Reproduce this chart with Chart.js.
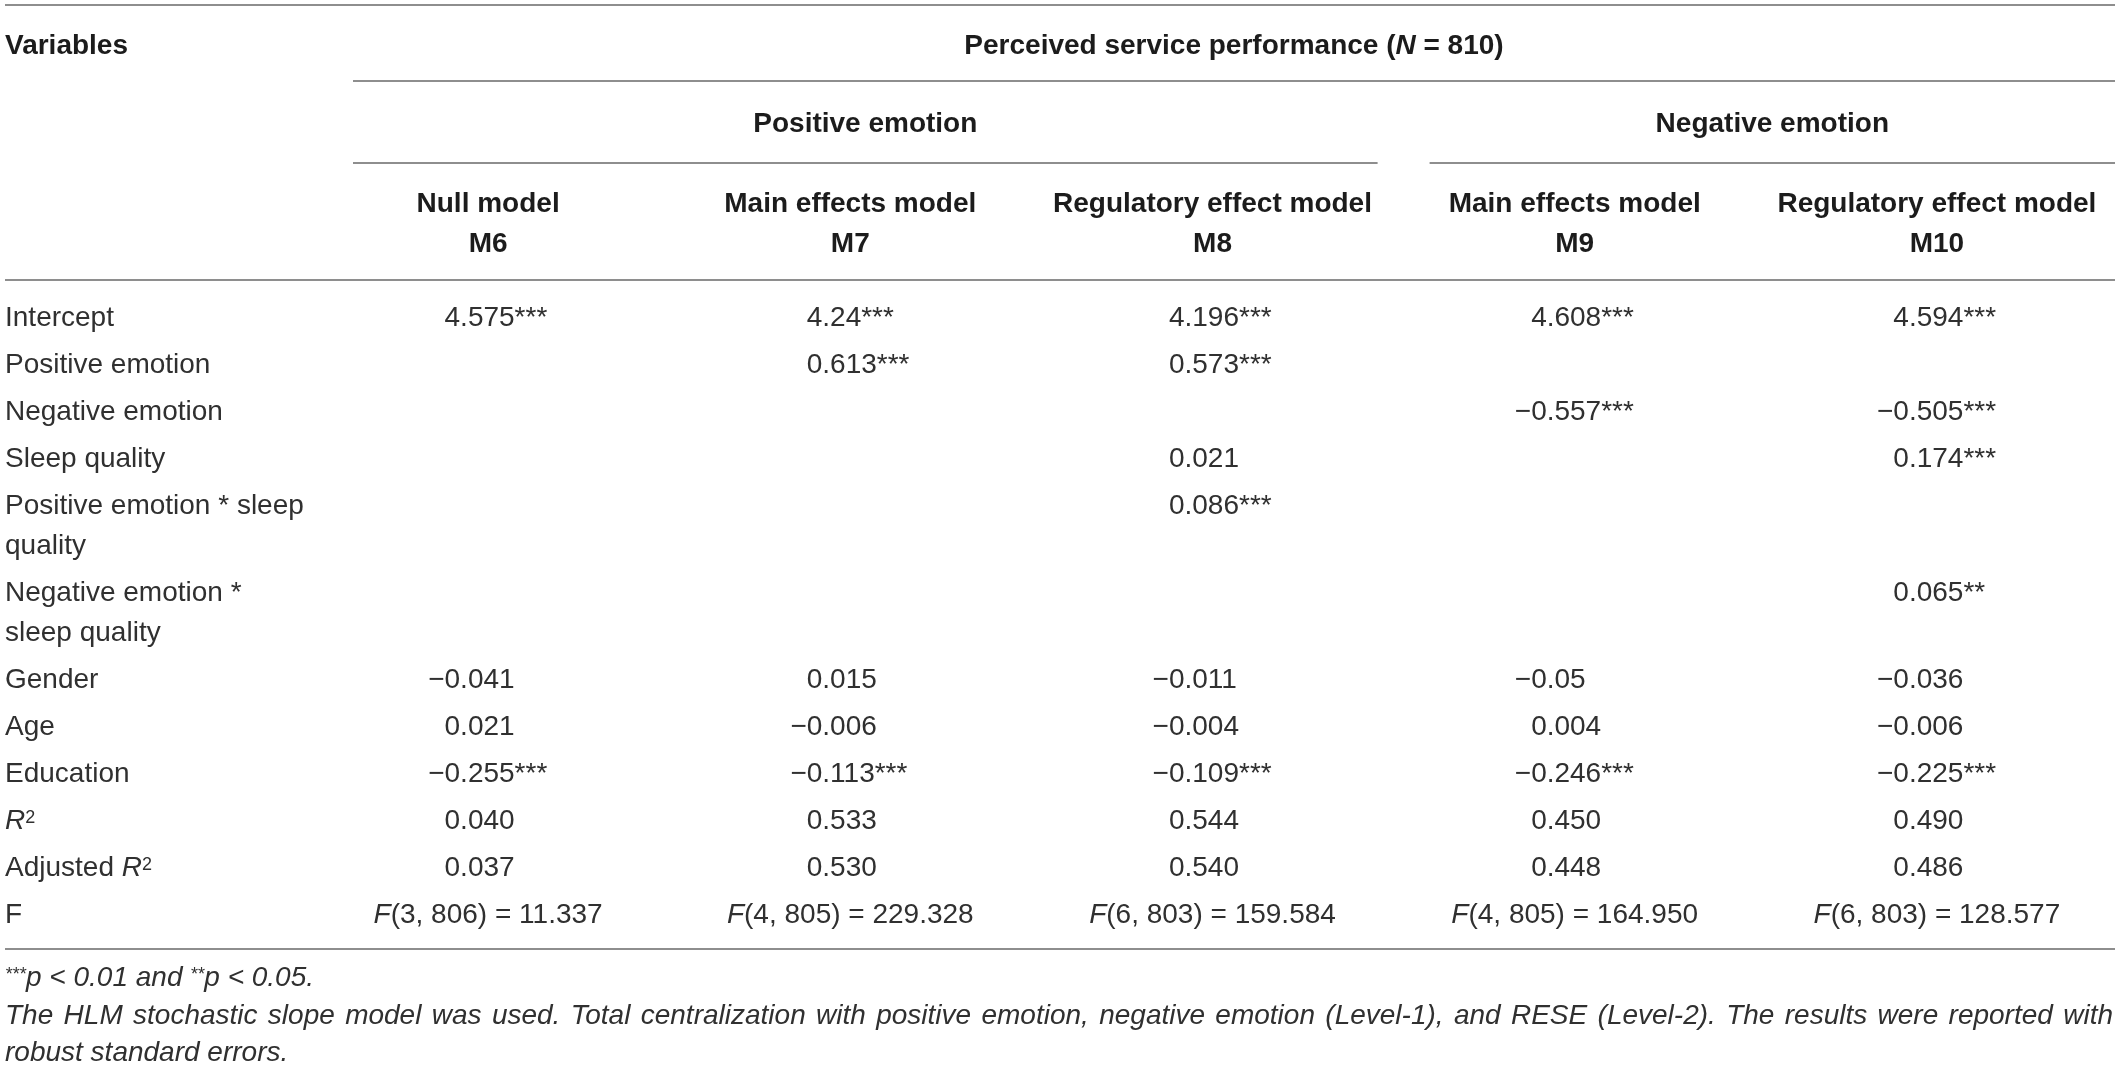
<!DOCTYPE html>
<html>
<head>
<meta charset="utf-8">
<title>Perceived service performance – HLM results</title>
<style>
  html, body { margin: 0; padding: 0; background: #ffffff; }
  #wrap { width: 2118px; height: 1068px; position: relative; }
  canvas { display: block; }
</style>
<script src="https://cdn.jsdelivr.net/npm/chart.js@4.4.1/dist/chart.umd.min.js"></script>
</head>
<body>
<div id="wrap"><canvas id="table"></canvas></div>
<script>
// ================= DATA =================
// markup: _x_ = italic, ^x^ = superscript
const stubHeader = 'Variables';
const spannerTitle = 'Perceived service performance (_N_ = 810)';
const groupLabels = ['Positive emotion', 'Negative emotion'];
const groupFirstCol = [1, 4];
const groupLastCol = [3, 5];
const modelTypes = ['Null model', 'Main effects model', 'Regulatory effect model', 'Main effects model', 'Regulatory effect model'];
const modelIds = ['M6', 'M7', 'M8', 'M9', 'M10'];

const rowLabels = [
  ['Intercept'],
  ['Positive emotion'],
  ['Negative emotion'],
  ['Sleep quality'],
  ['Positive emotion * sleep', 'quality'],
  ['Negative emotion *', 'sleep quality'],
  ['Gender'],
  ['Age'],
  ['Education'],
  ['_R_^2^'],
  ['Adjusted _R_^2^'],
  ['F']
];

const valuesM6  = ['4.575***', '', '', '', '', '', '−0.041', '0.021', '−0.255***', '0.040', '0.037', '_F_(3, 806) = 11.337'];
const valuesM7  = ['4.24***', '0.613***', '', '', '', '', '0.015', '−0.006', '−0.113***', '0.533', '0.530', '_F_(4, 805) = 229.328'];
const valuesM8  = ['4.196***', '0.573***', '', '0.021', '0.086***', '', '−0.011', '−0.004', '−0.109***', '0.544', '0.540', '_F_(6, 803) = 159.584'];
const valuesM9  = ['4.608***', '', '−0.557***', '', '', '', '−0.05', '0.004', '−0.246***', '0.450', '0.448', '_F_(4, 805) = 164.950'];
const valuesM10 = ['4.594***', '', '−0.505***', '0.174***', '', '0.065**', '−0.036', '−0.006', '−0.225***', '0.490', '0.486', '_F_(6, 803) = 128.577'];
const modelValues = [valuesM6, valuesM7, valuesM8, valuesM9, valuesM10];
const centeredRows = ['F'];

const footnoteSig = '^***^p < 0.01 and ^**^p < 0.05.';
const footnoteText = [
  'The HLM stochastic slope model was used. Total centralization with positive emotion, negative emotion (Level-1), and RESE (Level-2). The results were reported with',
  'robust standard errors.'
];

// ================= STYLE / LAYOUT CONSTANTS =================
const FONT = '"Liberation Sans", Arial, Helvetica, sans-serif';
const SIZE = 28;
const LINE = 40;            // text line height
const FOOT_LINE = 37.5;     // footnote line height
const TABLE_TOP = 5.5;
const HEAD_PADS = [18, 21, 18.5];
const BODY_PAD_TOP = 12;
const BODY_PAD_BOTTOM = 13;
const ROW_PAD = 3.55;
const FOOT_GAP = 27;
const FOOT_BOTTOM = 17;
const TABLE_LEFT = 5;
const STUB_WIDTH = 302;
const RIGHT_INSET = 3;
const RULE_LEAD = 46;       // start of spanner rules inside the first data column
const RULE_GAP_END = 16;    // gap before a group boundary
const RULE_GAP_START = 36;  // gap after a group boundary
const DEC_OFFSET = -28;     // decimal point relative to column centre
const SUP_SCALE = 0.64;
const SUP_RAISE = 0.22;
const BASE_SHIFT = 0.36;
const TEXT = '#303030';
const HEAD_TEXT = '#1c1c1c';
const RULE = '#8e8e8e';

// ================= LAYOUT (derived from line counts) =================
const L = {};
let yy = TABLE_TOP;
L.rules = [];
L.rules.push({ y: yy, kind: 'full' });
L.head1 = yy + HEAD_PADS[0] + LINE / 2;  yy += 2 * HEAD_PADS[0] + LINE;
L.rules.push({ y: yy, kind: 'spanner' });
L.head2 = yy + HEAD_PADS[1] + LINE / 2;  yy += 2 * HEAD_PADS[1] + LINE;
L.rules.push({ y: yy, kind: 'groups' });
L.head3 = yy + HEAD_PADS[2] + LINE / 2;  yy += 2 * HEAD_PADS[2] + 2 * LINE;
L.rules.push({ y: yy, kind: 'full' });
yy += BODY_PAD_TOP;
L.rowY = [];
rowLabels.forEach(lbl => {
  L.rowY.push(yy + ROW_PAD + LINE / 2);
  yy += lbl.length * LINE + 2 * ROW_PAD;
});
yy += BODY_PAD_BOTTOM;
L.rules.push({ y: yy, kind: 'full' });
L.footY = [];
let fy = yy + FOOT_GAP;
[footnoteSig].concat(footnoteText).forEach(() => { L.footY.push(fy); fy += FOOT_LINE; });
const TOTAL_H = fy - FOOT_LINE + FOOT_BOTTOM;

// cells placed on the scales
const bodyCells = [];
modelValues.forEach((vals, ci) => {
  vals.forEach((v, ri) => {
    if (v !== '') {
      bodyCells.push({ x: ci + 1, y: L.rowY[ri], v: v, centered: centeredRows.includes(rowLabels[ri][0]) });
    }
  });
});
const headerCells = modelIds.map((id, ci) => ({ x: ci + 1, y: L.head3, lines: [modelTypes[ci], id] }));
const labelCells = rowLabels.map((lbl, ri) => ({ y: L.rowY[ri], lines: lbl }));

// ================= TEXT HELPERS =================
function fontStr(size, bold, italic) {
  return (italic ? 'italic ' : '') + (bold ? 'bold ' : '') + size + 'px ' + FONT;
}
function parseRich(s) {
  const segs = []; let italic = false, sup = false, buf = '';
  for (const ch of s) {
    if (ch === '_' || ch === '^') {
      if (buf) { segs.push({ t: buf, italic, sup }); buf = ''; }
      if (ch === '_') italic = !italic; else sup = !sup;
    } else buf += ch;
  }
  if (buf) segs.push({ t: buf, italic, sup });
  return segs;
}
function segFont(g, st) {
  return fontStr(g.sup ? Math.round(st.size * SUP_SCALE) : st.size, st.bold, st.italic || g.italic);
}
function richWidth(ctx, segs, st) {
  let w = 0;
  segs.forEach(g => { ctx.font = segFont(g, st); w += ctx.measureText(g.t).width; });
  return w;
}
function drawRich(ctx, str, x, yc, align, st) {
  const segs = parseRich(str);
  const w = richWidth(ctx, segs, st);
  let cx = align === 'center' ? x - w / 2 : (align === 'right' ? x - w : x);
  const base = yc + BASE_SHIFT * st.size;
  ctx.textAlign = 'left';
  ctx.textBaseline = 'alphabetic';
  ctx.fillStyle = st.color;
  segs.forEach(g => {
    ctx.font = segFont(g, st);
    ctx.fillText(g.t, cx, g.sup ? base - SUP_RAISE * st.size : base);
    cx += ctx.measureText(g.t).width;
  });
  return w;
}
function drawJustified(ctx, str, x0, x1, yc, st) {
  const words = str.split(' ');
  ctx.font = fontStr(st.size, st.bold, st.italic);
  const widths = words.map(w => ctx.measureText(w).width);
  const sum = widths.reduce((a, b) => a + b, 0);
  const gap = (x1 - x0 - sum) / (words.length - 1);
  let cx = x0;
  const base = yc + BASE_SHIFT * st.size;
  ctx.textAlign = 'left'; ctx.textBaseline = 'alphabetic'; ctx.fillStyle = st.color;
  words.forEach((w, i) => { ctx.fillText(w, cx, base); cx += widths[i] + gap; });
}

// ================= TABLE PLUGIN =================
const tablePlugin = {
  id: 'tableText',
  afterDatasetsDraw(chart) {
    const ctx = chart.ctx;
    const xS = chart.scales.x, yS = chart.scales.y;
    const left = yS.left;
    const right = chart.chartArea.right - RIGHT_INSET;
    const px = v => xS.getPixelForValue(v);
    const py = v => yS.getPixelForValue(v);
    const body = { size: SIZE, bold: false, italic: false, color: TEXT };
    const head = { size: SIZE, bold: true, italic: false, color: HEAD_TEXT };
    const foot = { size: SIZE, bold: false, italic: true, color: TEXT };

    // group segments
    const nCols = modelIds.length;
    const segStart = c => (c === 1 ? px(0.5) + RULE_LEAD : px(c - 0.5) + RULE_GAP_START);
    const segEnd = c => (c === nCols ? right : px(c + 0.5) - RULE_GAP_END);

    ctx.save();
    // rules
    ctx.strokeStyle = RULE; ctx.lineWidth = 2;
    L.rules.forEach(r => {
      const y = Math.round(py(r.y));
      const segs = [];
      if (r.kind === 'full') segs.push([left, right]);
      else if (r.kind === 'spanner') segs.push([segStart(1), right]);
      else groupLabels.forEach((g, gi) => segs.push([segStart(groupFirstCol[gi]), segEnd(groupLastCol[gi])]));
      segs.forEach(([a, b]) => { ctx.beginPath(); ctx.moveTo(a, y); ctx.lineTo(b, y); ctx.stroke(); });
    });

    // header row 1
    drawRich(ctx, stubHeader, left, py(L.head1), 'left', head);
    drawRich(ctx, spannerTitle, (segStart(1) + right) / 2, py(L.head1), 'center', head);
    // header row 2
    groupLabels.forEach((g, gi) => {
      const a = segStart(groupFirstCol[gi]), b = segEnd(groupLastCol[gi]);
      drawRich(ctx, g, (a + b) / 2, py(L.head2), 'center', head);
    });
    // header row 3 (dataset 1)
    const hm = chart.getDatasetMeta(1);
    hm.data.forEach((pt, i) => {
      const cell = chart.data.datasets[1].data[i];
      cell.lines.forEach((ln, li) => drawRich(ctx, ln, pt.x, pt.y + li * LINE, 'center', head));
    });

    // row labels (stub column of the y axis)
    labelCells.forEach(c => {
      c.lines.forEach((ln, li) => drawRich(ctx, ln, left, py(c.y + li * LINE), 'left', body));
    });

    // body cells (dataset 0)
    const bm = chart.getDatasetMeta(0);
    bm.data.forEach((pt, i) => {
      const cell = chart.data.datasets[0].data[i];
      if (cell.centered) {
        drawRich(ctx, cell.v, pt.x, pt.y, 'center', body);
      } else {
        const k = cell.v.indexOf('.');
        const anchor = pt.x + DEC_OFFSET;
        if (k < 0) drawRich(ctx, cell.v, anchor, pt.y, 'right', body);
        else {
          drawRich(ctx, cell.v.slice(0, k), anchor, pt.y, 'right', body);
          drawRich(ctx, cell.v.slice(k), anchor, pt.y, 'left', body);
        }
      }
    });

    // footnotes
    drawRich(ctx, footnoteSig, left, py(L.footY[0]), 'left', foot);
    drawJustified(ctx, footnoteText[0], left, right - 2, py(L.footY[1]), foot);
    drawRich(ctx, footnoteText[1], left, py(L.footY[2]), 'left', foot);
    ctx.restore();
  }
};

// ================= CHART =================
Chart.defaults.font.family = FONT;
const chart = new Chart(document.getElementById('table'), {
  type: 'scatter',
  data: {
    datasets: [
      { label: 'cells', data: bodyCells, pointRadius: 0, pointHoverRadius: 0, borderWidth: 0 },
      { label: 'model headers', data: headerCells, pointRadius: 0, pointHoverRadius: 0, borderWidth: 0 }
    ]
  },
  options: {
    responsive: true,
    maintainAspectRatio: false,
    animation: false,
    events: [],
    layout: { padding: { left: TABLE_LEFT, right: 0, top: 0, bottom: 0 } },
    plugins: { legend: { display: false }, tooltip: { enabled: false }, title: { display: false } },
    scales: {
      x: { type: 'linear', min: 0.5, max: modelIds.length + 0.5, display: false },
      y: {
        type: 'linear', reverse: true, min: 0, max: TOTAL_H, display: true,
        ticks: { display: false }, grid: { display: false }, border: { display: false },
        afterFit: s => { s.width = STUB_WIDTH; s.paddingTop = 0; s.paddingBottom = 0; }
      }
    }
  },
  plugins: [tablePlugin]
});
</script>
</body>
</html>
